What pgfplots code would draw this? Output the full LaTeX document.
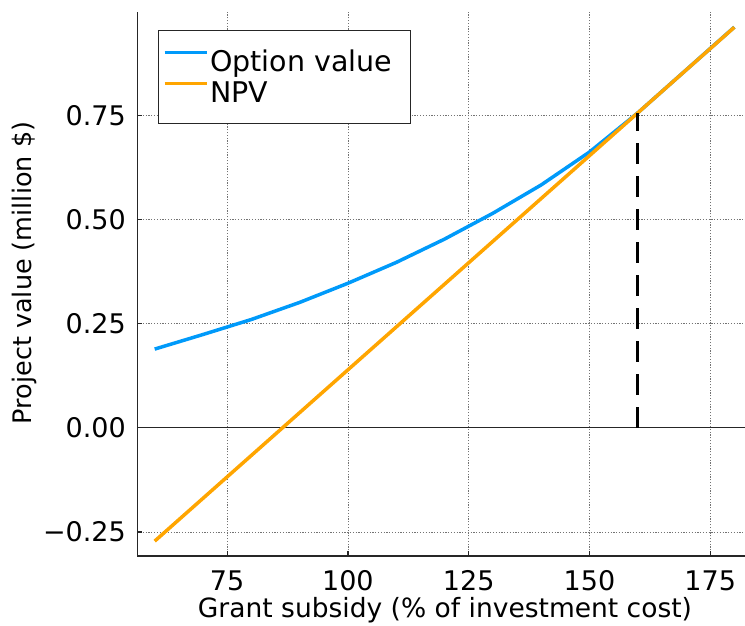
\documentclass[border=0pt]{standalone}
\usepackage{fontspec}
\setmainfont{DejaVu Sans}
\usepackage{pgfplots}
\pgfplotsset{compat=1.18}
\definecolor{optblue}{RGB}{0,154,250}
\definecolor{npvorange}{RGB}{255,165,0}
\begin{document}
\begin{tikzpicture}
\begin{axis}[
  at={(0,0)}, anchor=south west,
  scale only axis,
  width=607.7bp, height=543.5bp,
  xmin=56.4, xmax=182.2,
  ymin=-0.3077, ymax=0.997,
  axis x line*=bottom, axis y line*=left,
  axis line style={-, line width=1.2bp, black!85},
  xtick={75,100,125,150,175},
  xticklabels={75,100,125,150,175},
  ytick={-0.25,0,0.25,0.5,0.75},
  yticklabels={−0.25,0.00,0.25,0.50,0.75},
  tick align=inside,
  major tick length=5bp,
  tick style={line width=1.2bp, black!85},
  xtick pos=bottom, ytick pos=left,
  grid=major,
  major grid style={line width=0.7bp, black!55, dash pattern=on 1.2bp off 1.6bp},
  xticklabel style={font=\fontsize{27bp}{32bp}\selectfont, anchor=base, yshift=-34bp, inner sep=0pt},
  yticklabel style={font=\fontsize{27bp}{32bp}\selectfont, anchor=east, xshift=-11.3bp, inner sep=0pt},
  /pgf/number format/assume math mode=true,
  xlabel={Grant subsidy (\% of investment cost)},
  ylabel={Project value (million \$)},
  every axis x label/.style={at={(axis description cs:0.5063,0)}, anchor=base, yshift=-61bp, font=\fontsize{26.5bp}{31bp}\selectfont},
  every axis y label/.style={at={(axis description cs:-0.1864,0.5207)}, rotate=90, anchor=center, font=\fontsize{25.5bp}{31bp}\selectfont},
  legend style={at={(axis description cs:0.034,0.968)}, anchor=north west,
    draw=black!85, line width=1.2bp, fill=white,
    font=\fontsize{28.5bp}{31bp}\selectfont,
    inner xsep=4.5bp, inner ysep=15.5bp, row sep=0bp,
    nodes={inner xsep=2bp, inner ysep=0pt, text height=26bp, text depth=5bp}},
  legend cell align=left,
  legend image code/.code={\draw[#1, line width=3bp] (0bp,9bp) -- (42bp,9bp);},
]
\addplot[black!85, line width=1.2bp, forget plot] coordinates {(56.4,0) (182.2,0)};
\addplot[optblue, line width=3.5bp] coordinates {
(60,0.189) (70,0.224) (80,0.260) (90,0.301) (100,0.347) (110,0.397)
(120,0.453) (130,0.515) (140,0.583) (150,0.662) (160,0.756) (170,0.859) (180,0.962)};
\addlegendentry{Option value\rule{12bp}{0pt}}
\addplot[npvorange, line width=3.5bp] coordinates {
(60,-0.272) (70,-0.1692) (80,-0.0664) (90,0.0364) (100,0.1392) (110,0.242)
(120,0.3448) (130,0.4476) (140,0.5504) (150,0.6532) (160,0.756) (170,0.8588) (180,0.9616)};
\addlegendentry{NPV}
\addplot[black, line width=3bp, dash pattern=on 21bp off 12bp, forget plot] coordinates {(160,0) (160,0.756)};
\end{axis}
\pgfresetboundingbox
\useasboundingbox (-137.3bp,-70bp) rectangle (607.7bp,556bp);
\end{tikzpicture}
\end{document}
